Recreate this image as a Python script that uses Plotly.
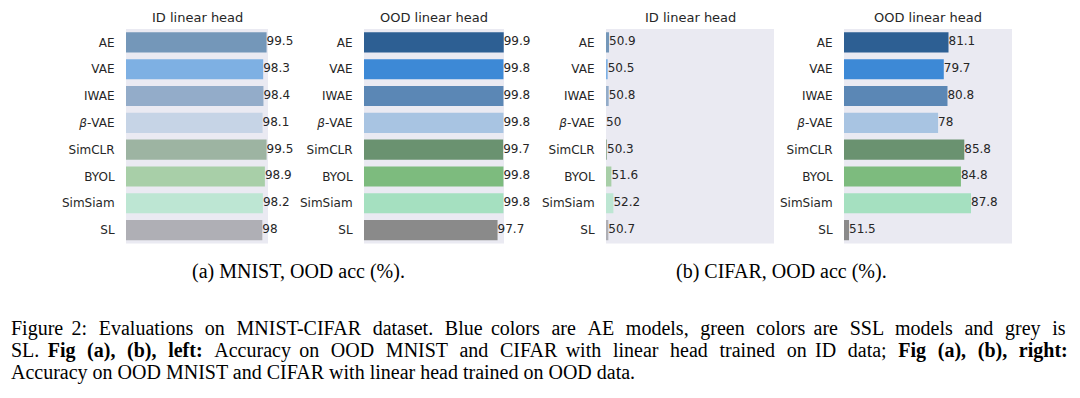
import plotly.graph_objects as go

models = ["AE", "VAE", "IWAE", "<i>β</i>-VAE", "SimCLR", "BYOL", "SimSiam", "SL"]

mnist_id = [99.5, 98.3, 98.4, 98.1, 99.5, 98.9, 98.2, 98.0]
mnist_ood = [99.9, 99.8, 99.8, 99.8, 99.7, 99.8, 99.8, 97.7]
cifar_id = [50.9, 50.5, 50.8, 50.0, 50.3, 51.6, 52.2, 50.7]
cifar_ood = [81.1, 79.7, 80.8, 78.0, 85.8, 84.8, 87.8, 51.5]

labels_mnist_id = ["99.5", "98.3", "98.4", "98.1", "99.5", "98.9", "98.2", "98"]
labels_mnist_ood = ["99.9", "99.8", "99.8", "99.8", "99.7", "99.8", "99.8", "97.7"]
labels_cifar_id = ["50.9", "50.5", "50.8", "50", "50.3", "51.6", "52.2", "50.7"]
labels_cifar_ood = ["81.1", "79.7", "80.8", "78", "85.8", "84.8", "87.8", "51.5"]

colors_full = ["#2d5f93", "#3d89d6", "#5b87b5", "#a8c4e2", "#6a9270", "#7dbb7e", "#a5e0c0", "#8a8a8a"]
colors_light = ["#7497b9", "#7eb0e3", "#93acc9", "#c6d4e6", "#9db4a2", "#a8cfa8", "#bde6d3", "#afafb5"]

titles = ["ID linear head", "OOD linear head", "ID linear head", "OOD linear head"]
captions = ["(a) MNIST, OOD acc (%).", "(b) CIFAR, OOD acc (%)."]

fig_lines = [
    "Figure 2: Evaluations on MNIST-CIFAR dataset. Blue colors are AE models, green colors are SSL models and grey is",
    "SL. <b>Fig (a), (b), left:</b> Accuracy on OOD MNIST and CIFAR with linear head trained on ID data; <b>Fig (a), (b), right:</b>",
    "Accuracy on OOD MNIST and CIFAR with linear head trained on OOD data.",
]
# total extra six-per-em spaces per line, spread over the word gaps (justified look)
justify_units = [33, 38, 0]

# page body has an 8px margin; work in reference-image pixel coordinates
OFF = 8
W, H = 1080 - OFF, 398 - OFF


def px(x):
    return (x - OFF) / W


def py(y):
    return 1 - (y - OFF) / H


def justify(line, units):
    words = line.split(" ")
    gaps = len(words) - 1
    out = words[0]
    for g in range(gaps):
        n = (units * (g + 1)) // gaps - (units * g) // gaps
        out += " " + "\u2006" * n + words[g + 1]
    return out


panels = [
    (mnist_id, labels_mnist_id, colors_light, (126, 268)),
    (mnist_ood, labels_mnist_ood, colors_full, (364, 504)),
    (cifar_id, labels_cifar_id, colors_light, (606, 774)),
    (cifar_ood, labels_cifar_ood, colors_full, (844, 1012)),
]
y_top, y_bot = 29, 243.5

fig = go.Figure()
layout = dict(
    width=W, height=H,
    margin=dict(l=0, r=0, t=0, b=0),
    paper_bgcolor="white",
    plot_bgcolor="#eaeaf2",
    showlegend=False,
    bargap=0.25,
    font=dict(family="DejaVu Sans", size=12, color="#262626"),
)
annotations = []
for i, (vals, labs, cols, (x0, x1)) in enumerate(panels):
    k = "" if i == 0 else str(i + 1)
    fig.add_trace(go.Bar(
        x=vals, y=models, orientation="h",
        marker=dict(color=cols, line=dict(width=0)),
        xaxis="x" + k, yaxis="y" + k, hoverinfo="skip",
    ))
    fig.add_trace(go.Scatter(
        x=vals, y=models, mode="text", text=labs,
        textposition="middle right",
        textfont=dict(family="DejaVu Sans", size=12, color="#262626"),
        cliponaxis=False, xaxis="x" + k, yaxis="y" + k, hoverinfo="skip",
    ))
    layout["xaxis" + k] = dict(
        domain=[px(x0), px(x1)], range=[50, 100], anchor="y" + k,
        showticklabels=False, showgrid=False, zeroline=False, ticks="",
        fixedrange=True,
    )
    layout["yaxis" + k] = dict(
        domain=[py(y_bot), py(y_top)], anchor="x" + k,
        autorange="reversed", showgrid=False, zeroline=False,
        ticks="outside", ticklen=8, tickcolor="rgba(0,0,0,0)",
        tickfont=dict(family="DejaVu Sans", size=12, color="#262626"),
    )
    annotations.append(dict(
        text=titles[i], xref="paper", yref="paper",
        x=px((x0 + x1) / 2), y=py(17), xanchor="center", yanchor="middle",
        showarrow=False, font=dict(family="DejaVu Sans", size=13, color="#262626"),
    ))

cap_font = dict(family="Liberation Serif", size=20, color="black")
annotations.append(dict(text=captions[0], xref="paper", yref="paper",
                        x=px(298), y=py(271), xanchor="center", yanchor="middle",
                        showarrow=False, font=cap_font))
annotations.append(dict(text=captions[1], xref="paper", yref="paper",
                        x=px(781), y=py(271), xanchor="center", yanchor="middle",
                        showarrow=False, font=cap_font))

for j, line in enumerate(fig_lines):
    annotations.append(dict(text=justify(line, justify_units[j]), xref="paper", yref="paper",
                            x=px(9), y=py(328.5 + 22 * j), xanchor="left", yanchor="middle",
                            showarrow=False, font=cap_font))

layout["annotations"] = annotations
fig.update_layout(**layout)
fig.write_html("out.html")
